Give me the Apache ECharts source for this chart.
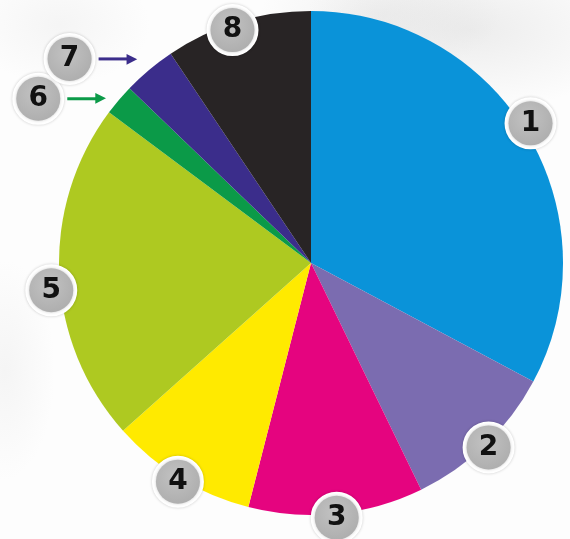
<!DOCTYPE html>
<html>
<head>
<meta charset="utf-8">
<script src="https://cdn.jsdelivr.net/npm/echarts@6/dist/echarts.min.js"></script>
<style>
  html, body { margin: 0; padding: 0; }
  body {
    width: 570px; height: 539px; overflow: hidden;
    background:
      radial-gradient(ellipse 170px 80px at 470px 30px, rgba(205,205,205,0.35), rgba(255,255,255,0) 100%),
      radial-gradient(ellipse 120px 60px at 380px 15px, rgba(210,210,210,0.3), rgba(255,255,255,0) 100%),
      radial-gradient(ellipse 50px 110px at 5px 370px, rgba(220,220,220,0.25), rgba(255,255,255,0) 100%),
      radial-gradient(ellipse 90px 60px at 60px 25px, rgba(220,220,220,0.25), rgba(255,255,255,0) 100%),
      #fdfdfd;
  }
  #chart { width: 570px; height: 539px; }
</style>
</head>
<body>
<div id="chart"></div>
<script>
// ---- data ----
const categories = ['1', '2', '3', '4', '5', '6', '7', '8'];
const values = [32.8, 10.0, 11.2, 9.4, 21.8, 2.0, 3.4, 9.4];
const colors = ['#0a93d9', '#7b6cb0', '#e5047f', '#ffea00', '#aec921', '#0b9a48', '#3b2d8b', '#282425'];
const arrowLabels = ['6', '7'];   // labels drawn off the rim with an arrow

const chart = echarts.init(document.getElementById('chart'), null, { renderer: 'canvas' });

const circleStyle = {
  width: 44, height: 44, lineHeight: 46,
  align: 'center', verticalAlign: 'middle',
  backgroundColor: {
    type: 'radial', x: 0.45, y: 0.4, r: 0.7,
    colorStops: [{ offset: 0, color: '#c2c2c2' }, { offset: 1, color: '#a8a8a8' }]
  },
  borderColor: '#ffffff', borderWidth: 4, borderRadius: 24,
  shadowColor: 'rgba(0,0,0,0.2)', shadowBlur: 3,
  color: '#111', fontSize: 28, fontWeight: 'bold',
  fontFamily: 'DejaVu Sans'
};

const center = [311, 263];

const mainData = categories.map((c, i) => ({
  name: c, value: values[i], itemStyle: { color: colors[i] }
}));

const rimLabelData = categories.map((c, i) => ({
  name: c, value: values[i],
  label: { show: arrowLabels.indexOf(c) < 0 }
}));

const arrowLabelData = categories.map((c, i) => {
  const show = arrowLabels.indexOf(c) >= 0;
  return {
    name: c, value: values[i],
    label: {
      show: show,
      formatter: '{c|' + c + '}{g|}{ln|}{hd|▶}',
      rich: {
        c: circleStyle,
        g: { width: 7, height: 2 },
        ln: { width: 31, height: 3, backgroundColor: colors[i] },
        hd: { color: colors[i], fontSize: 14, fontFamily: 'DejaVu Sans', padding: [0, 0, 0, -3] }
      }
    }
  };
});

chart.setOption({
  backgroundColor: 'transparent',
  animation: false,
  series: [
    {
      type: 'pie',
      center: center,
      radius: 252,
      startAngle: 90,
      clockwise: true,
      silent: true,
      label: { show: false },
      labelLine: { show: false },
      data: mainData
    },
    {
      type: 'pie',
      center: center,
      radius: [230, 276],
      startAngle: 90,
      clockwise: true,
      silent: true,
      avoidLabelOverlap: false,
      itemStyle: { color: 'rgba(0,0,0,0)' },
      label: {
        position: 'inside',
        formatter: '{c|{b}}',
        rich: { c: circleStyle }
      },
      labelLine: { show: false },
      labelLayout: function (p) {
        // nudge the rim labels that sit off their slice middle
        if (p.dataIndex === 7) return { dy: 12, dx: -4 };
        if (p.dataIndex === 4) return { dy: 16, dx: -4 };
        if (p.dataIndex === 0) return { dy: -8 };
        return {};
      },
      data: rimLabelData
    },
    {
      type: 'pie',
      center: center,
      radius: [276, 316],
      startAngle: 97,
      clockwise: true,
      silent: true,
      avoidLabelOverlap: false,
      itemStyle: { color: 'rgba(0,0,0,0)' },
      label: { position: 'inside' },
      labelLine: { show: false },
      labelLayout: { hideOverlap: false },
      data: arrowLabelData
    }
  ]
});
</script>
</body>
</html>
